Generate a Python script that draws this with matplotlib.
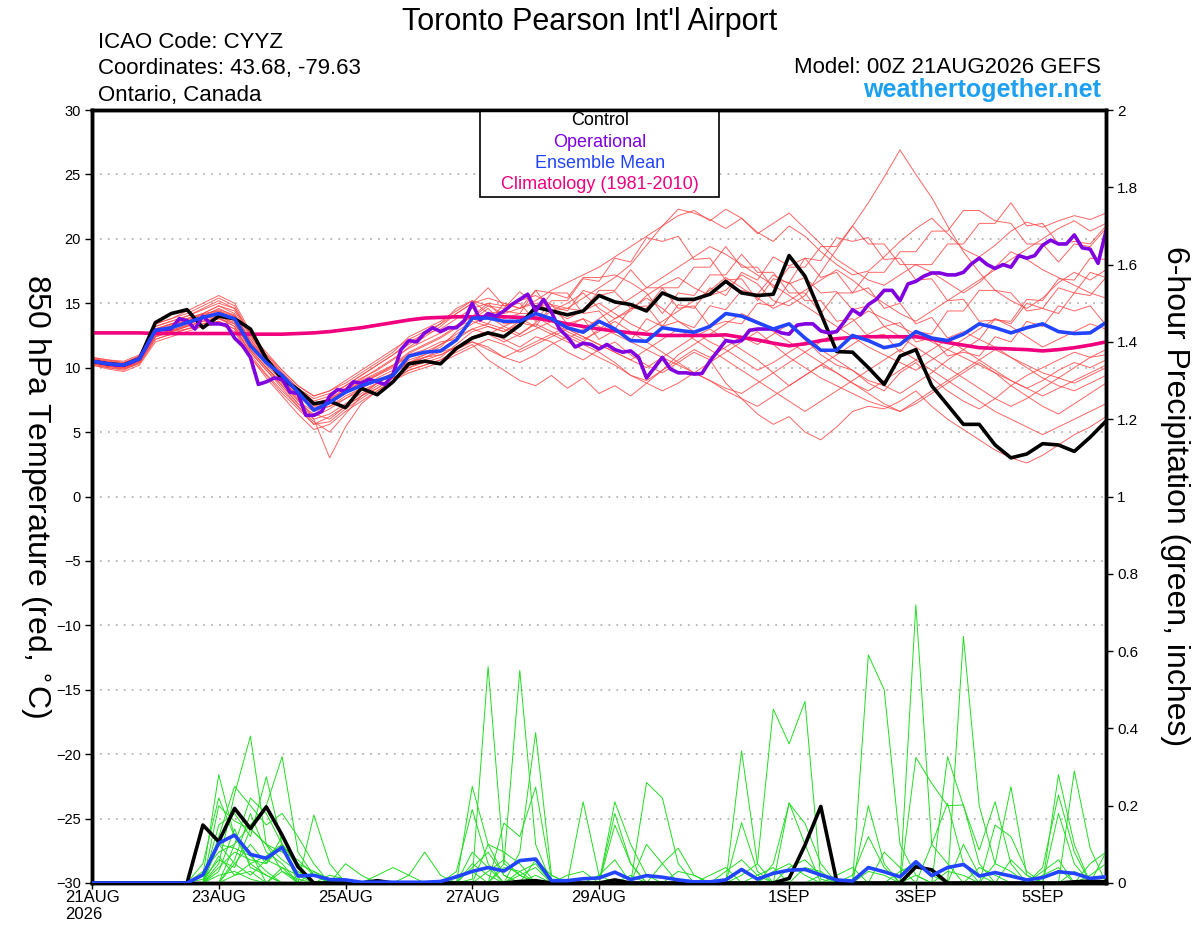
import numpy as np
import matplotlib
matplotlib.use("Agg")
import matplotlib.pyplot as plt
from matplotlib.patches import Rectangle
from matplotlib.ticker import FuncFormatter

plt.rcParams['font.family'] = ['Liberation Sans', 'DejaVu Sans']

# forecast hours (6-hourly members, 3-hourly operational run)
hours = np.arange(65) * 6
hours_op = np.arange(129) * 3

tick_hours = [0, 48, 96, 144, 192, 264, 312, 360]
tick_labels = ['21AUG\n2026', '23AUG', '25AUG', '27AUG', '29AUG', '1SEP', '3SEP', '5SEP']

# 850 hPa temperature, deg C
control_t = [10.5, 10.3, 10.2, 10.7, 13.5, 14.2, 14.5, 13.1, 14.0, 13.8, 13.0, 10.7, 9.1, 8.3, 7.2, 7.4, 6.9,
             8.4, 7.9, 8.9, 10.3, 10.5, 10.3, 11.5, 12.3, 12.7, 12.4, 13.3, 14.7, 14.4, 14.1, 14.4, 15.6, 15.1,
             14.9, 14.4, 15.8, 15.3, 15.3, 15.7, 16.7, 15.8, 15.6, 15.7, 18.7, 17.1, 14.2, 11.25, 11.2, 10.0,
             8.7, 10.9, 11.4, 8.6, 7.1, 5.6, 5.6, 4.0, 3.0, 3.3, 4.1, 4.0, 3.5, 4.6, 5.85]
mean_t = [10.5, 10.3, 10.2, 10.7, 12.9, 13.1, 13.5, 13.9, 14.2, 13.8, 11.7, 10.4, 9.4, 8.1, 6.7, 7.3, 8.1, 8.6,
          9.0, 9.4, 10.9, 11.2, 11.3, 12.15, 13.85, 13.85, 13.6, 13.6, 14.2, 13.8, 13.1, 12.75, 13.6, 13.0,
          12.1, 12.05, 13.1, 12.9, 12.75, 13.2, 14.2, 14.0, 13.5, 13.0, 13.4, 12.3, 11.35, 11.35, 12.5, 12.1,
          11.55, 11.8, 12.8, 12.3, 12.1, 12.6, 13.4, 13.1, 12.7, 13.1, 13.4, 12.8, 12.65, 12.7, 13.5]
clim_t = [12.7, 12.7, 12.7, 12.7, 12.65, 12.65, 12.65, 12.65, 12.65, 12.65, 12.6, 12.6, 12.6, 12.65, 12.7,
          12.8, 12.95, 13.1, 13.3, 13.5, 13.7, 13.85, 13.9, 13.95, 13.95, 13.95, 13.95, 13.9, 13.85, 13.65,
          13.4, 13.2, 13.0, 12.85, 12.7, 12.6, 12.5, 12.5, 12.5, 12.5, 12.55, 12.35, 12.15, 11.9, 11.7, 11.85,
          12.1, 12.25, 12.35, 12.4, 12.4, 12.4, 12.4, 12.2, 11.95, 11.75, 11.55, 11.5, 11.45, 11.4, 11.3, 11.4,
          11.55, 11.75, 12.0]
oper_t = [10.5, 10.4, 10.3, 10.2, 10.2, 10.4, 10.7, 11.8, 12.9, 12.95,
          13.0, 13.8, 13.65, 13.0, 14.0, 13.4, 13.4, 13.3, 12.3, 11.7,
          10.8, 8.7, 8.9, 9.2, 9.1, 8.1, 8.0, 6.3, 6.3, 6.6,
          7.8, 8.3, 8.2, 8.9, 8.8, 9.1, 8.9, 8.7, 9.5, 11.4,
          12.1, 12.0, 12.7, 13.1, 12.8, 13.1, 13.1, 13.65, 15.0, 13.7,
          14.2, 14.0, 14.4, 14.9, 15.3, 15.7, 14.4, 15.3, 14.3, 13.0,
          12.4, 11.6, 11.9, 11.8, 11.45, 11.8, 11.4, 11.2, 11.3, 10.8,
          9.2, 10.0, 10.8, 9.9, 9.6, 9.6, 9.5, 9.55, 10.5, 11.3,
          12.1, 12.0, 12.1, 12.9, 13.0, 13.0, 13.0, 12.7, 12.6, 13.3,
          13.4, 13.4, 12.85, 12.7, 12.8, 13.6, 14.5, 14.1, 14.9, 15.3,
          16.0, 16.0, 15.2, 16.5, 16.7, 17.1, 17.35, 17.35, 17.2, 17.2,
          17.4, 18.05, 18.5, 18.0, 17.7, 18.0, 17.8, 18.7, 18.5, 18.7,
          19.5, 19.9, 19.6, 19.6, 20.3, 19.3, 19.2, 18.1, 20.6]

members_t = [
    [10.6, 10.4, 10.3, 10.9, 13.2, 13.6, 14.0, 14.5, 15.0, 14.6, 12.5, 10.8, 9.6, 8.4, 7.6, 8.0, 8.6, 9.4, 10.2,
     11.0, 12.0, 12.6, 13.0, 13.8, 14.6, 15.0, 14.8, 15.2, 15.6, 14.9, 14.6, 15.4, 16.2, 17.0, 18.0, 19.5,
     21.0, 22.3, 22.0, 21.5, 20.8, 21.6, 20.5, 19.8, 21.0, 20.2, 19.0, 18.0, 17.2, 17.5, 18.6, 19.8, 20.8,
     21.6, 20.4, 19.2, 18.6, 19.5, 20.6, 21.3, 20.9, 21.4, 21.8, 21.5, 22.0],
    [10.4, 10.1, 10.0, 10.5, 12.6, 12.9, 13.3, 13.8, 14.0, 13.5, 11.4, 10.0, 8.8, 7.5, 6.2, 6.8, 7.6, 8.2, 8.8,
     9.4, 10.6, 11.0, 11.8, 12.6, 13.4, 14.0, 13.2, 12.6, 13.5, 14.4, 15.0, 15.8, 14.6, 13.8, 14.4, 15.6, 16.4,
     17.0, 16.2, 15.6, 16.0, 17.2, 16.5, 15.2, 14.8, 15.6, 17.4, 19.2, 21.0, 22.8, 24.8, 26.9, 25.0, 23.2,
     21.0, 19.0, 17.4, 16.0, 15.2, 14.6, 15.4, 16.6, 17.4, 16.8, 17.6],
    [10.3, 10.0, 9.8, 10.4, 12.4, 12.8, 13.0, 13.4, 13.9, 13.2, 11.0, 9.5, 8.2, 7.0, 5.8, 5.0, 6.4, 7.8, 8.8,
     9.6, 10.4, 10.8, 11.0, 11.6, 12.4, 12.8, 12.2, 11.6, 12.4, 12.0, 11.2, 10.6, 11.4, 12.0, 11.0, 10.2, 9.6,
     10.4, 11.2, 10.6, 8.8, 7.6, 6.4, 5.6, 6.2, 5.0, 4.4, 5.4, 6.6, 7.0, 6.8, 7.4, 8.2, 7.0, 6.0, 5.2, 4.4,
     3.6, 3.0, 2.6, 3.2, 4.0, 4.8, 5.4, 6.2],
    [10.8, 10.6, 10.4, 10.8, 13.0, 13.4, 13.8, 14.2, 14.8, 14.2, 12.0, 10.4, 9.0, 7.6, 6.0, 3.0, 5.4, 7.2, 8.2,
     9.0, 9.8, 10.2, 10.6, 11.4, 12.0, 11.6, 10.8, 10.4, 11.0, 11.8, 12.4, 11.8, 11.2, 10.4, 9.4, 9.0, 9.8,
     10.6, 11.4, 10.8, 11.6, 12.4, 11.8, 12.6, 13.4, 12.2, 11.0, 10.2, 9.8, 8.8, 8.2, 9.6, 10.4, 9.2, 8.2,
     7.4, 6.8, 7.6, 8.6, 9.4, 10.0, 10.6, 11.2, 10.8, 11.4],
    [10.5, 10.3, 10.1, 10.6, 12.8, 13.2, 13.6, 14.0, 14.6, 14.0, 12.2, 10.6, 9.4, 8.2, 7.2, 7.6, 8.4, 9.2, 9.8,
     10.6, 11.6, 12.4, 13.2, 14.2, 15.0, 15.4, 15.0, 14.6, 15.2, 16.0, 16.6, 17.2, 17.8, 18.6, 19.4, 20.2,
     21.0, 21.8, 22.2, 21.4, 22.3, 21.6, 20.4, 21.2, 22.0, 20.8, 19.6, 18.4, 17.6, 16.8, 16.4, 17.2, 18.0,
     17.4, 16.6, 15.8, 16.6, 17.8, 19.0, 18.4, 17.6, 17.0, 16.4, 15.8, 15.4],
    [10.2, 10.0, 9.9, 10.3, 12.2, 12.6, 13.0, 13.4, 13.6, 13.0, 11.2, 9.8, 8.6, 7.2, 6.4, 6.0, 7.0, 7.8, 8.4,
     9.2, 10.0, 10.4, 10.8, 11.8, 12.8, 13.2, 12.8, 13.4, 14.0, 13.2, 12.6, 12.0, 13.0, 13.8, 14.6, 15.4, 14.6,
     13.6, 12.8, 12.0, 11.4, 10.6, 9.8, 10.4, 11.2, 12.0, 11.4, 10.6, 9.8, 9.0, 8.6, 8.0, 8.8, 9.6, 10.6,
     11.4, 12.2, 11.6, 10.8, 10.2, 9.6, 9.2, 8.8, 9.4, 10.0],
    [10.7, 10.5, 10.4, 10.9, 13.4, 13.8, 14.4, 15.0, 15.6, 15.0, 12.8, 11.0, 9.8, 8.6, 7.8, 8.2, 8.8, 9.6, 10.4,
     11.2, 12.4, 13.0, 13.6, 14.4, 15.2, 14.8, 14.2, 14.6, 15.0, 14.4, 13.8, 14.4, 15.0, 14.2, 13.4, 12.8,
     13.6, 14.4, 15.2, 16.0, 17.0, 16.2, 15.4, 14.6, 15.2, 16.0, 16.8, 17.6, 16.8, 15.8, 15.0, 14.2, 13.6,
     14.4, 15.2, 16.0, 16.8, 17.6, 18.4, 19.2, 20.0, 20.8, 21.4, 20.6, 21.2],
    [10.4, 10.2, 10.1, 10.6, 12.6, 12.8, 13.2, 13.6, 14.0, 13.4, 11.6, 10.2, 9.0, 7.8, 6.8, 7.0, 7.8, 8.4, 9.0,
     9.6, 10.2, 10.8, 11.4, 12.2, 13.0, 13.4, 13.0, 12.4, 13.0, 13.6, 13.0, 12.4, 11.8, 11.2, 10.6, 10.0,
     10.8, 11.6, 12.4, 13.0, 12.2, 11.4, 10.6, 9.6, 8.6, 9.4, 10.2, 11.0, 11.8, 12.6, 13.2, 12.4, 11.6, 10.8,
     10.0, 9.2, 8.4, 7.6, 7.0, 7.6, 8.4, 9.2, 10.0, 10.8, 11.0],
    [10.6, 10.4, 10.2, 10.8, 13.0, 13.4, 13.8, 14.2, 14.4, 14.0, 12.0, 10.6, 9.2, 8.0, 7.0, 7.4, 8.2, 9.0, 9.6,
     10.2, 11.2, 11.8, 12.4, 13.2, 14.0, 15.0, 13.8, 14.2, 14.2, 15.8, 15.4, 17.0, 17.0, 17.2, 16.6, 15.8,
     14.2, 15.8, 15.6, 17.2, 17.2, 18.8, 17.4, 17.4, 15.8, 15.8, 14.2, 15.8, 15.8, 17.4, 17.4, 19.0, 19.0,
     20.6, 20.6, 22.2, 22.2, 21.4, 21.2, 19.6, 19.6, 18.2, 19.6, 19.4, 20.8],
    [10.3, 10.1, 10.0, 10.5, 12.4, 12.8, 13.2, 13.6, 13.8, 13.2, 11.2, 9.8, 8.4, 7.0, 5.6, 5.8, 6.8, 7.6, 8.4,
     9.2, 10.0, 10.6, 11.0, 11.6, 12.2, 12.6, 13.2, 13.8, 13.2, 12.6, 12.0, 11.4, 10.8, 10.2, 9.4, 8.8, 8.2,
     8.8, 9.6, 10.4, 11.2, 12.0, 12.8, 11.8, 10.8, 10.0, 9.2, 8.6, 8.0, 7.4, 7.0, 6.6, 7.2, 8.0, 8.8, 9.6,
     10.4, 9.6, 8.6, 7.8, 7.0, 6.4, 7.2, 8.0, 8.8],
    [10.5, 10.3, 10.2, 10.7, 12.8, 13.2, 13.6, 14.0, 14.4, 13.8, 11.8, 10.4, 9.0, 7.8, 6.8, 7.2, 8.0, 8.8, 9.4,
     10.0, 11.0, 11.4, 12.0, 12.2, 13.8, 13.4, 15.0, 14.6, 16.0, 14.4, 14.6, 14.4, 16.0, 16.0, 17.6, 16.2,
     16.2, 14.6, 14.8, 13.2, 13.6, 13.4, 15.0, 14.8, 16.6, 15.2, 15.2, 13.6, 13.8, 12.4, 12.6, 11.2, 12.8,
     12.6, 14.4, 14.4, 16.0, 16.0, 15.8, 14.4, 14.6, 14.2, 15.8, 15.6, 17.0],
    [10.6, 10.4, 10.3, 10.8, 13.0, 13.4, 13.6, 14.2, 14.8, 14.4, 12.4, 10.8, 9.4, 8.0, 7.2, 7.6, 8.2, 8.8, 9.4,
     10.2, 10.8, 11.2, 11.8, 12.4, 13.0, 12.6, 12.0, 12.6, 13.4, 12.8, 12.2, 13.0, 13.8, 14.6, 15.4, 16.2,
     17.0, 17.8, 18.6, 19.4, 18.8, 18.0, 17.2, 16.4, 15.6, 14.8, 14.0, 13.2, 12.4, 11.6, 11.0, 10.4, 9.8,
     10.6, 11.4, 12.2, 13.0, 13.8, 13.2, 12.4, 11.6, 12.2, 12.8, 13.4, 13.0],
    [10.4, 10.2, 10.0, 10.4, 12.2, 12.6, 13.0, 13.2, 13.6, 13.0, 10.8, 9.4, 8.0, 6.8, 5.6, 6.2, 7.0, 7.8, 8.6,
     9.2, 9.8, 10.2, 10.6, 11.2, 11.8, 10.6, 9.8, 9.0, 8.6, 9.4, 8.4, 9.2, 8.0, 8.6, 7.8, 8.8, 9.8,
     11.0, 11.8, 12.6, 13.4, 14.2, 13.6, 12.8, 12.0, 11.2, 10.4, 9.6, 8.8, 8.2, 9.0, 9.8, 10.6, 11.4, 12.2,
     11.4, 10.6, 9.8, 9.0, 8.4, 9.0, 9.8, 10.4, 10.0, 10.6],
    [10.7, 10.5, 10.3, 10.9, 13.2, 13.6, 14.0, 14.6, 15.2, 14.6, 12.6, 11.0, 9.6, 8.4, 7.4, 7.8, 8.6, 9.4, 10.2,
     11.0, 11.8, 12.6, 13.4, 14.2, 15.0, 16.2, 14.8, 15.0, 13.6, 15.2, 15.2, 16.9, 16.7, 18.5, 18.2, 20.1,
     19.8, 20.2, 18.4, 18.5, 16.8, 16.9, 15.2, 16.9, 16.6, 18.5, 18.3, 20.1, 19.8, 20.1, 18.4, 18.5, 16.8,
     16.9, 15.2, 15.3, 13.6, 13.7, 13.6, 15.3, 15.2, 16.9, 16.8, 18.5, 18.4],
    [10.2, 9.9, 9.7, 10.2, 12.0, 12.4, 12.8, 13.2, 13.4, 12.8, 10.8, 9.2, 7.8, 6.4, 5.2, 5.6, 6.6, 7.4, 8.2,
     9.0, 9.6, 10.0, 10.4, 11.0, 11.6, 12.2, 11.8, 11.2, 11.8, 12.4, 13.0, 12.4, 11.8, 11.2, 10.6, 11.4, 12.2,
     13.0, 12.2, 11.4, 10.6, 9.8, 9.0, 8.2, 7.4, 6.6, 7.4, 8.2, 9.0, 9.8, 10.6, 11.4, 10.6, 9.8, 9.0, 8.2,
     7.4, 6.6, 6.0, 5.4, 4.8, 5.4, 6.0, 6.6, 7.2],
    [10.6, 10.4, 10.2, 10.7, 12.9, 13.3, 13.7, 14.1, 14.5, 14.1, 12.2, 10.7, 9.3, 8.1, 7.1, 7.5, 8.3, 9.1, 9.9,
     10.7, 11.5, 12.1, 12.7, 13.3, 13.9, 14.8, 14.6, 15.9, 14.8, 14.9, 13.4, 13.8, 12.2, 12.9, 12.1, 13.8,
     13.2, 14.9, 14.6, 16.2, 15.6, 17.4, 16.8, 18.6, 17.9, 18.5, 17.0, 17.4, 15.8, 16.2, 14.6, 15.0, 13.4,
     13.9, 12.3, 12.8, 12.2, 13.8, 13.4, 15.0, 14.6, 16.2, 15.8, 17.4, 17.0],
    [10.5, 10.2, 10.1, 10.6, 12.5, 12.9, 13.3, 13.9, 14.2, 13.6, 11.4, 10.0, 8.8, 7.4, 6.6, 7.0, 7.6, 8.4, 9.2,
     9.8, 10.4, 11.0, 11.6, 12.8, 13.6, 13.2, 12.8, 13.6, 14.2, 13.6, 12.8, 12.2, 12.8, 13.6, 12.8, 12.0,
     11.2, 10.4, 9.6, 9.0, 8.2, 7.6, 7.0, 7.8, 8.6, 9.4, 10.2, 9.6, 8.8, 8.0, 7.2, 6.6, 7.4, 8.2, 9.0, 9.8,
     10.6, 11.4, 10.8, 10.0, 9.2, 8.6, 8.2, 8.8, 9.4],
    [10.8, 10.6, 10.5, 11.0, 13.4, 13.8, 14.2, 14.8, 15.4, 14.8, 12.6, 11.2, 9.8, 8.6, 7.8, 8.2, 9.0, 9.8, 10.6,
     11.4, 12.2, 12.8, 13.4, 14.6, 15.2, 14.2, 14.4, 14.2, 16.0, 15.8, 15.8, 14.2, 14.4, 13.0, 14.6, 14.6,
     16.2, 16.2, 17.8, 17.8, 19.4, 17.8, 17.8, 16.2, 17.8, 17.8, 19.4, 19.4, 21.0, 19.6, 19.6, 18.0, 18.0,
     18.0, 19.6, 19.6, 21.2, 21.2, 22.8, 21.0, 21.2, 19.6, 19.8, 19.6, 21.0],
    [10.3, 10.1, 9.9, 10.4, 12.4, 12.8, 13.2, 13.6, 13.8, 13.4, 11.4, 10.0, 8.6, 7.2, 6.0, 6.4, 7.2, 8.0, 8.8,
     9.6, 10.4, 10.8, 11.2, 11.6, 12.0, 11.4, 10.8, 11.4, 12.0, 12.6, 13.2, 13.8, 13.2, 12.6, 12.0, 11.4,
     10.8, 10.2, 9.6, 9.0, 8.4, 8.0, 8.8, 9.6, 10.4, 11.2, 12.0, 12.8, 13.6, 14.4, 13.8, 13.2, 12.6, 12.0,
     11.4, 10.8, 10.2, 9.6, 9.0, 8.4, 7.8, 8.4, 9.0, 9.6, 10.2],
    [10.5, 10.3, 10.1, 10.6, 12.7, 13.1, 13.5, 13.9, 14.3, 13.9, 11.9, 10.5, 9.2, 7.9, 6.9, 7.3, 8.1, 8.9, 9.5,
     10.1, 11.1, 11.7, 12.3, 13.1, 13.7, 14.6, 13.4, 13.5, 13.2, 14.8, 14.4, 16.0, 15.6, 15.9, 14.6, 14.8,
     13.2, 13.6, 13.1, 14.8, 14.5, 16.0, 15.7, 17.2, 16.5, 17.0, 15.8, 15.9, 14.5, 14.8, 13.2, 13.5, 12.0,
     12.3, 10.9, 11.2, 10.9, 12.4, 12.0, 13.6, 13.2, 14.8, 14.4, 14.8, 13.3],
]

# 6-hour precipitation, inches
control_p = [0, 0, 0, 0, 0, 0, 0, .15, .107, .193, .141, .197, .124, .042, 0, 0, 0, 0, .006, 0,
             0, 0, 0, 0, 0, 0, 0, .004, .006, 0, 0, 0, 0, .008, 0, 0, 0, 0, 0, 0,
             0, 0, 0, 0, .012, .098, .198, .005, 0, 0, 0, 0, .042, .034, 0, 0, 0, 0, 0, 0,
             0, 0, .003, .005, .003]
mean_p = [0, 0, 0, 0, 0, 0, 0, .021, .103, .124, .074, .064, .092, .018, .02, .009, .008, .002, .002, .002,
          .002, .002, .004, .016, .03, .04, .031, .058, .062, .006, .006, .011, .013, .028, .009, .019, .015,
          .008, .003, .003, .008, .035, .01, .025, .033, .035, .021, .008, .005, .04, .029, .016, .055, .019,
          .04, .048, .018, .027, .018, .008, .014, .029, .025, .012, .016]

members_p = [
    [0, 0, 0, 0, 0, 0, 0, .02, .28, .12, .05, .02, 0,
     0, 0, 0, 0, 0, 0, 0, 0, 0, 0, 0, .01, .56,
     .05, .02, 0, 0, 0, 0, 0, 0, 0, 0, 0, 0, 0,
     0, 0, .02, .05, .45, .36, .47, .01, 0, 0, 0, 0, 0,
     .02, 0, 0, 0, 0, 0, 0, 0, 0, .28, .1, 0, 0],
    [0, 0, 0, 0, 0, 0, 0, 0, .05, .23, .38, .1, .03,
     0, 0, 0, 0, 0, 0, 0, 0, 0, 0, 0, 0, 0,
     .05, .55, .1, 0, 0, 0, 0, 0, 0, .26, .22, .05, 0,
     0, 0, 0, 0, 0, 0, 0, 0, 0, 0, .59, .5, .1,
     .02, 0, 0, 0, 0, 0, 0, 0, 0, 0, 0, 0, 0],
    [0, 0, 0, 0, 0, 0, 0, 0, .15, .18, .12, .275, .1,
     .05, 0, 0, 0, 0, 0, 0, 0, 0, 0, 0, .25, .1,
     .02, 0, 0, 0, 0, 0, 0, 0, 0, 0, 0, 0, 0,
     0, 0, 0, 0, 0, 0, 0, 0, 0, 0, 0, 0, 0,
     .72, .1, .05, 0, 0, 0, 0, 0, 0, 0, .29, .09, 0],
    [0, 0, 0, 0, 0, 0, 0, 0, 0, .1, .15, .2, .327,
     .08, .02, 0, 0, 0, 0, 0, 0, 0, 0, 0, 0, 0,
     0, .08, .389, .02, 0, 0, 0, 0, 0, 0, 0, 0, 0,
     0, 0, 0, 0, 0, 0, 0, 0, 0, 0, 0, 0, 0,
     0, 0, 0, .638, .2, .05, .249, .02, 0, 0, 0, 0, 0],
    [0, 0, 0, 0, 0, 0, 0, .05, .22, .12, .08, 0, 0,
     0, .176, .05, 0, 0, 0, 0, 0, 0, 0, .03, .19, .05,
     0, 0, 0, 0, 0, .21, .02, 0, 0, 0, 0, 0, 0,
     0, 0, 0, 0, 0, .208, .1, 0, 0, 0, 0, 0, 0,
     .325, .258, .2, .202, .05, 0, 0, 0, 0, 0, 0, 0, 0],
    [0, 0, 0, 0, 0, 0, 0, 0, .2, .16, .14, .1, .08,
     .06, .02, 0, 0, 0, 0, 0, 0, 0, 0, 0, 0, 0,
     .155, .12, .248, .01, 0, 0, 0, .21, .1, .02, 0, 0, 0,
     0, 0, 0, 0, 0, 0, 0, 0, 0, 0, 0, 0, 0,
     0, 0, 0, 0, 0, 0, 0, 0, .04, .228, .08, 0, .08],
    [0, 0, 0, 0, 0, 0, 0, 0, .12, .25, .2, .15, .18,
     .12, .05, 0, 0, 0, 0, 0, 0, 0, 0, 0, 0, 0,
     0, 0, 0, 0, 0, 0, 0, .18, .05, 0, 0, 0, 0,
     0, 0, .342, .05, 0, 0, 0, 0, 0, 0, .2, .05, 0,
     0, 0, .327, .2, .085, .21, .05, 0, 0, 0, 0, 0, 0],
    [0, 0, 0, 0, 0, 0, 0, .03, .08, .1, .22, .18, .1,
     0, 0, 0, 0, 0, 0, 0, 0, 0, 0, 0, .05, .02,
     0, 0, 0, 0, 0, 0, 0, 0, 0, 0, .05, .09, .02,
     0, 0, 0, 0, .05, .206, .154, .05, 0, 0, 0, 0, 0,
     0, 0, 0, 0, 0, .15, .12, .03, 0, 0, 0, .05, .08],
    [0, 0, 0, 0, 0, 0, 0, 0, .1, .05, .1, .05, .1,
     .05, .03, 0, .05, .02, 0, 0, .02, .08, .02, 0, 0, 0,
     0, 0, 0, 0, 0, 0, 0, 0, 0, 0, 0, 0, 0,
     0, 0, .156, .03, 0, 0, 0, 0, 0, 0, 0, 0, 0,
     0, .1, .206, .05, 0, 0, 0, 0, 0, .18, .05, 0, 0],
    [0, 0, 0, 0, 0, 0, 0, 0, 0, .06, .18, .08, .05,
     0, 0, 0, 0, 0, .02, .04, .02, 0, 0, 0, 0, .1,
     .08, .05, 0, 0, 0, 0, 0, .15, .05, 0, 0, 0, 0,
     0, 0, 0, 0, 0, 0, 0, 0, 0, .02, .12, .04, 0,
     0, 0, 0, .1, .02, 0, 0, 0, 0, 0, 0, 0, 0],
    [0, 0, 0, 0, 0, 0, 0, 0, .04, .08, .06, .05, .12,
     .04, 0, 0, 0, 0, 0, 0, 0, 0, 0, 0, .08, .04,
     0, 0, .06, .02, 0, 0, 0, 0, 0, .1, .05, 0, 0,
     0, 0, 0, 0, 0, 0, .04, .03, 0, 0, 0, 0, 0,
     0, 0, 0, 0, 0, 0, .06, .02, 0, 0, 0, 0, 0],
    [0, 0, 0, 0, 0, 0, 0, .01, .06, .04, .14, .1, .06,
     .03, 0, 0, 0, 0, 0, 0, 0, 0, 0, 0, 0, 0,
     0, .03, .05, 0, 0, 0, 0, 0, 0, 0, 0, 0, 0,
     0, .03, .06, .02, 0, 0, 0, 0, 0, 0, 0, .08, .04,
     0, 0, 0, 0, 0, 0, 0, 0, .03, .06, 0, 0, 0],
    [0, 0, 0, 0, 0, 0, 0, 0, .03, .14, .04, .02, 0,
     0, 0, 0, 0, 0, 0, 0, 0, 0, 0, 0, .04, .08,
     .02, 0, 0, 0, 0, 0, .02, .06, 0, 0, 0, 0, 0,
     0, 0, 0, 0, 0, .04, .06, .02, 0, 0, 0, 0, 0,
     .05, .03, 0, 0, 0, 0, 0, 0, 0, 0, 0, 0, 0],
    [0, 0, 0, 0, 0, 0, 0, 0, 0, .05, .02, .06, .04,
     .02, 0, 0, 0, 0, 0, 0, 0, 0, 0, 0, 0, 0,
     .04, .03, 0, 0, 0, 0, 0, 0, 0, 0, 0, .03, .02,
     0, 0, 0, 0, 0, 0, 0, 0, .02, .04, 0, 0, 0,
     0, 0, 0, 0, 0, .05, .03, 0, 0, 0, 0, 0, 0],
    [0, 0, 0, 0, 0, 0, 0, 0, .02, .03, .01, 0, .03,
     .01, 0, .02, .01, 0, 0, 0, 0, 0, 0, 0, 0, 0,
     0, 0, .02, 0, 0, 0, 0, 0, 0, 0, 0, 0, 0,
     .02, .04, 0, 0, 0, 0, 0, 0, 0, 0, 0, 0, .03,
     .05, .02, 0, 0, 0, 0, 0, 0, 0, 0, .03, .01, .02],
    [0, 0, 0, 0, 0, 0, 0, .02, .1, .09, .07, .03, 0,
     0, 0, 0, 0, 0, 0, 0, 0, 0, 0, 0, 0, .03,
     .06, .02, 0, 0, 0, 0, 0, 0, .02, 0, 0, 0, 0,
     0, 0, 0, 0, .03, .05, .02, 0, 0, 0, 0, 0, 0,
     0, 0, 0, 0, .04, .02, 0, 0, 0, 0, 0, 0, 0],
    [0, 0, 0, 0, 0, 0, 0, 0, 0, .02, .05, .07, .1,
     .04, 0, 0, 0, 0, 0, 0, 0, 0, 0, .02, .03, 0,
     0, 0, 0, 0, .02, .03, 0, 0, 0, 0, 0, 0, 0,
     0, 0, 0, 0, 0, 0, 0, .02, .01, 0, 0, 0, 0,
     0, 0, .03, .02, 0, 0, 0, 0, .02, .04, 0, 0, 0],
    [0, 0, 0, 0, 0, 0, 0, 0, .07, .02, .03, 0, .04,
     0, .03, .01, 0, 0, 0, 0, 0, 0, 0, 0, 0, 0,
     0, .02, .04, 0, 0, 0, 0, 0, 0, 0, 0, 0, 0,
     0, 0, 0, .02, .04, 0, 0, 0, 0, 0, .03, .02, 0,
     0, 0, 0, 0, 0, 0, 0, 0, 0, 0, 0, .02, .05],
]

RED = '#ff4a4a'
GREEN = '#22dd22'
PURPLE = '#8000e0'
BLUE = '#2244ff'
PINK = '#f0007f'

fig = plt.figure(figsize=(12, 9.27), dpi=100)
ax = fig.add_axes([92 / 1200, 1 - 883 / 927, 1014 / 1200, 773 / 927])

for m in members_t:
    ax.plot(hours, m, color=RED, lw=0.7, alpha=0.85, zorder=2)
ax.plot(hours, clim_t, color=PINK, lw=2.6, zorder=3)
ax.plot(hours, control_t, color='black', lw=2.6, zorder=4)
ax.plot(hours_op, oper_t, color=PURPLE, lw=2.6, zorder=5)
ax.plot(hours, mean_t, color=BLUE, lw=2.6, zorder=6)

ax.set_xlim(0, 384)
ax.set_ylim(-30, 30)
ax.set_yticks(range(-30, 31, 5))
ax.grid(axis='y', color='#aaaaaa', linestyle=(0, (1.2, 4)), linewidth=1.1)
ax.set_xticks(tick_hours)
ax.set_xticklabels(tick_labels)
ax.get_xticklabels()[0].set_multialignment('left')
ax.tick_params(axis='y', labelsize=10.5, length=5, width=1, direction='out', pad=3)
ax.tick_params(axis='x', labelsize=12, length=4, width=1, direction='out', pad=1)

ax2 = ax.twinx()
for m in members_p:
    ax2.plot(hours, m, color=GREEN, lw=0.7, zorder=2)
ax2.plot(hours, control_p, color='black', lw=2.6, zorder=4)
ax2.plot(hours, mean_p, color=BLUE, lw=2.6, zorder=5)
ax2.set_ylim(0, 2)
ax2.set_yticks(np.arange(0, 2.01, 0.2))
ax2.yaxis.set_major_formatter(FuncFormatter(lambda v, p: '%g' % round(v, 1)))
ax2.tick_params(axis='y', labelsize=11, length=5, width=1, direction='out', pad=3)

for a in (ax, ax2):
    for s in a.spines.values():
        s.set_linewidth(2.5)

# legend box
ax.add_patch(Rectangle((0.3826, 0.8875), 0.2357, 0.1125, transform=ax.transAxes,
                       facecolor='white', edgecolor='black', lw=1.2, zorder=10, clip_on=False))
leg_items = [('Control', 'black', 0.9858), ('Operational', PURPLE, 0.9586),
             ('Ensemble Mean', BLUE, 0.9314), ('Climatology (1981-2010)', PINK, 0.903)]
for txt, col, yy in leg_items:
    ax.text(0.501, yy, txt, color=col, fontsize=13, ha='center', va='center',
            transform=ax.transAxes, zorder=11)

# header
fig.text(590 / 1200, 1 - 30 / 927, "Toronto Pearson Int'l Airport", fontsize=22, ha='center', va='baseline')
fig.text(98 / 1200, 1 - 48 / 927, 'ICAO Code: CYYZ', fontsize=16, ha='left', va='baseline')
fig.text(98 / 1200, 1 - 74 / 927, 'Coordinates: 43.68, -79.63', fontsize=16, ha='left', va='baseline')
fig.text(98 / 1200, 1 - 101 / 927, 'Ontario, Canada', fontsize=16, ha='left', va='baseline')
fig.text(1101 / 1200, 1 - 73 / 927, 'Model: 00Z 21AUG2026 GEFS', fontsize=16, ha='right', va='baseline')
fig.text(1101 / 1200, 1 - 97 / 927, 'weathertogether.net', fontsize=18, fontweight='bold',
         color='#1ea0f0', ha='right', va='baseline')

fig.text(35 / 1200, 1 - 496 / 927, '850 hPa Temperature (red, $^{\\circ}$C)', fontsize=23,
         rotation=270, ha='center', va='center')
fig.text(1175 / 1200, 1 - 496 / 927, '6-hour Precipitation (green, inches)', fontsize=23,
         rotation=270, ha='center', va='center')

fig.savefig('out.png', dpi=100)
